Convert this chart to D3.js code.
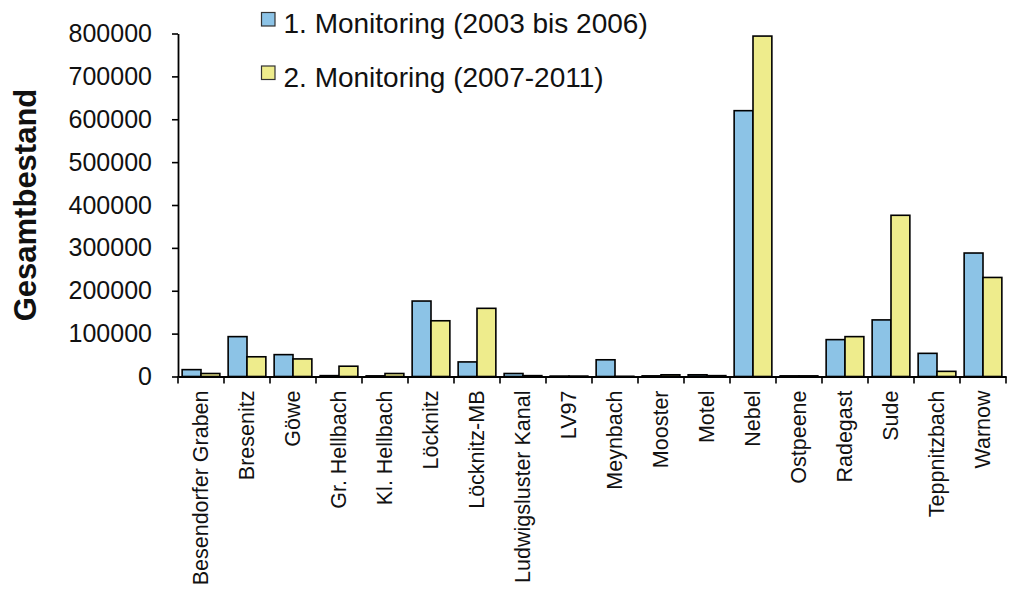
<!DOCTYPE html>
<html>
<head>
<meta charset="utf-8">
<script src="https://cdn.jsdelivr.net/npm/d3@7"></script>
<style>
  body { margin: 0; background: #fff; }
  svg { display: block; font-family: 'Liberation Sans', Arial, sans-serif; }
</style>
</head>
<body>
<div id="chart"></div>
<script>
const categories = [
  'Besendorfer Graben', 'Bresenitz', 'Göwe', 'Gr. Hellbach', 'Kl. Hellbach',
  'Löcknitz', 'Löcknitz-MB', 'Ludwigsluster Kanal', 'LV97', 'Meynbach',
  'Mooster', 'Motel', 'Nebel', 'Ostpeene', 'Radegast', 'Sude',
  'Teppnitzbach', 'Warnow'
]
const seriesNames = ['1. Monitoring (2003 bis 2006)', '2. Monitoring (2007-2011)']
const monitoring1 = [16000, 93000, 51000, 2000, 1500, 176000, 34000, 7000, 1000, 39000,
  1500, 4000, 620000, 1500, 86000, 132000, 54000, 288000]
const monitoring2 = [7000, 46000, 41000, 24000, 7000, 130000, 159000, 2000, 1000, 500,
  4000, 2000, 794000, 1500, 93000, 376000, 12000, 231000]
const yTicks = [0, 100000, 200000, 300000, 400000, 500000, 600000, 700000, 800000]
const colors = ['#8cc3e6', '#eeec8c']

const width = 1013
const height = 590
const plotLeft = 178
const plotRight = 1006
const plotBottom = 376.5
const plotTop = 33.5

const svg = d3.select('#chart')
  .append('svg')
  .attr('width', width)
  .attr('height', height)

const x0 = d3.scaleBand()
  .domain(categories)
  .range([plotLeft, plotRight])
  .paddingInner(0.18)
  .paddingOuter(0.09)

const x1 = d3.scaleBand()
  .domain([0, 1])
  .range([0, x0.bandwidth()])

const y = d3.scaleLinear()
  .domain([0, 800000])
  .range([plotBottom, plotTop])

// bars
const groups = svg.append('g')
  .selectAll('g')
  .data(categories)
  .enter()
  .append('g')
  .attr('transform', (d) => `translate(${x0(d)},0)`)

groups.selectAll('rect')
  .data((d, i) => [monitoring1[i], monitoring2[i]])
  .enter()
  .append('rect')
  .attr('x', (d, i) => x1(i))
  .attr('y', (d) => y(d))
  .attr('width', x1.bandwidth())
  .attr('height', (d) => plotBottom - y(d))
  .attr('fill', (d, i) => colors[i])
  .attr('stroke', '#000')
  .attr('stroke-width', 1.6)

// y axis
const yAxis = svg.append('g')
  .attr('transform', `translate(${plotLeft},0)`)
  .call(d3.axisLeft(y)
    .tickValues(yTicks)
    .tickFormat((d) => d)
    .tickSize(6)
    .tickSizeOuter(0)
    .tickPadding(20))

yAxis.select('.domain').attr('stroke', '#000').attr('stroke-width', 1.8)
yAxis.selectAll('.tick line').attr('stroke', '#000').attr('stroke-width', 1.6)
yAxis.selectAll('.tick text')
  .attr('font-size', 25)
  .attr('font-family', "'Liberation Sans', Arial, sans-serif")
  .attr('fill', '#111')

// x axis: line, ticks at category boundaries, rotated labels
const xAxis = svg.append('g')
  .attr('transform', `translate(0,${plotBottom})`)
  .call(d3.axisBottom(x0).tickSize(0).tickSizeOuter(0).tickPadding(0))

xAxis.select('.domain').attr('stroke', '#000').attr('stroke-width', 1.8)
xAxis.selectAll('.tick text')
  .attr('font-size', 21.5)
  .attr('font-family', "'Liberation Sans', Arial, sans-serif")
  .attr('fill', '#111')
  .attr('text-anchor', 'end')
  .attr('transform', 'rotate(-90)')
  .attr('x', -14)
  .attr('y', 0)
  .attr('dy', '0.34em')

const half = (x0.step() - x0.bandwidth()) / 2
const edges = categories.map((c) => x0(c) - half)
  .concat([x0(categories[categories.length - 1]) + x0.bandwidth() + half])

xAxis.selectAll('.edge')
  .data(edges)
  .enter()
  .append('line')
  .attr('class', 'edge')
  .attr('x1', (d) => d)
  .attr('x2', (d) => d)
  .attr('y1', 0)
  .attr('y2', 7)
  .attr('stroke', '#000')
  .attr('stroke-width', 1.6)

// y title
svg.append('text')
  .attr('transform', 'translate(36,205) rotate(-90)')
  .attr('text-anchor', 'middle')
  .attr('font-size', 31)
  .attr('font-weight', 'bold')
  .attr('fill', '#111')
  .text('Gesamtbestand')

// legend
const legend = svg.append('g')
  .selectAll('g')
  .data(seriesNames)
  .enter()
  .append('g')
  .attr('transform', (d, i) => `translate(261.5,${12.5 + i * 53.5})`)

legend.append('rect')
  .attr('width', 13.5)
  .attr('height', 13.5)
  .attr('fill', (d, i) => colors[i])
  .attr('stroke', '#333')
  .attr('stroke-width', 1.2)

legend.append('text')
  .attr('x', 22)
  .attr('y', 20.8)
  .attr('font-size', 28)
  .attr('fill', '#111')
  .text((d) => d)
</script>
</body>
</html>
